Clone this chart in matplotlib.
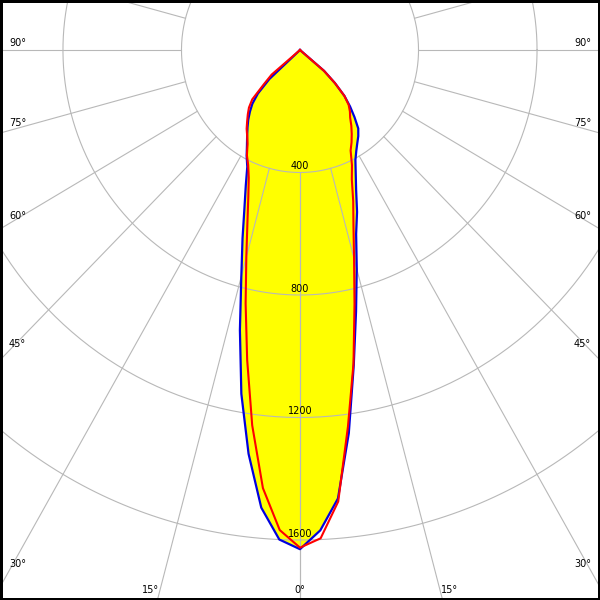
import matplotlib
matplotlib.use('Agg')
import numpy as np
import matplotlib.pyplot as plt

# luminous intensity (cd) vs gamma angle (deg), one list per half plane
gamma = [0, 2.5, 5, 7.5, 10, 12.5, 15, 17.5, 20, 22.5, 25, 27.5, 30,
         32.5, 35, 37.5, 40, 42.5, 45, 47.5, 50, 52.5, 55]
blue_left = [1630, 1600, 1500, 1330, 1140, 937, 765, 645, 548, 478, 421, 390, 358,
             332, 309, 287, 263, 238, 201, 140, 0, 0, 0]
blue_right = [1630, 1570, 1470, 1262, 1045, 874, 740, 630, 563, 495, 445, 405, 380,
              360, 343, 323, 286, 250, 212, 160, 106, 0, 0]
red_left = [1625, 1569, 1436, 1236, 1027, 848, 700, 590, 510, 452, 414, 388, 354,
            332, 314, 293, 274, 255, 228, 165, 125, 0, 0]
red_right = [1625, 1596, 1480, 1240, 1040, 850, 705, 600, 525, 457, 415, 370, 348,
             325, 302, 278, 262, 243, 212, 160, 106, 0, 0]

rings = [400, 800, 1200, 1600]
spokes = [0, 15, 30, 45, 60, 75, 90, 105, 120, 135, 150, 165, 180]
side_labels = [30, 45, 60, 75, 90]
bottom_labels = [0, 15]

# pixel scale of the original (slightly wider vertically than horizontally)
KX = 0.2963
KY = 0.30625


def outline(left, right):
    g = np.radians(gamma)
    l = np.array(left, dtype=float)
    r = np.array(right, dtype=float)
    x = np.concatenate([-(l * np.sin(g))[::-1], r * np.sin(g)])
    y = np.concatenate([-(l * np.cos(g))[::-1], -r * np.cos(g)])
    return x, y


fig = plt.figure(figsize=(6, 6), dpi=100)
ax = fig.add_axes([0, 0, 1, 1])
ax.set_xlim(-300 / KX, 300 / KX)
ax.set_ylim(-550 / KY, 50 / KY)
ax.set_xticks([])
ax.set_yticks([])
for s in ax.spines.values():
    s.set_linewidth(3.6)
    s.set_color('black')

grid_c = '#b8b8b8'
bx, by = outline(blue_left, blue_right)
ax.fill(bx, by, color='#ffff00', zorder=1, lw=0)

t = np.linspace(0, 2 * np.pi, 400)
for r in rings:
    ax.plot(r * np.cos(t), r * np.sin(t), color=grid_c, lw=0.8, zorder=2)
    ax.annotate(str(r), (0, -r), xytext=(0, 1), textcoords='offset points',
                ha='center', va='bottom', fontsize=7, zorder=5)

for a in spokes:
    for sgn in (-1, 1):
        g = np.radians(a)
        ax.plot([sgn * rings[0] * np.sin(g), sgn * 4000 * np.sin(g)],
                [-rings[0] * np.cos(g), -4000 * np.cos(g)],
                color=grid_c, lw=0.8, zorder=2)

ax.plot(bx, by, color='#0000e0', lw=1.6, zorder=3)
rx, ry = outline(red_left, red_right)
ax.plot(rx, ry, color='#ff0000', lw=1.5, zorder=4)

# angle labels along the frame
xe = 291 / KX
for a in side_labels:
    g = np.radians(a)
    yl = -xe / np.tan(g) if a < 90 else 0.0
    ax.annotate('%d°' % a, (-xe, yl), xytext=(0, 3), textcoords='offset points',
                ha='left', va='baseline', fontsize=7)
    ax.annotate('%d°' % a, (xe, yl), xytext=(0, 3), textcoords='offset points',
                ha='right', va='baseline', fontsize=7)

yb = -543 / KY
for a in bottom_labels:
    g = np.radians(a)
    xl = -yb * np.tan(g)
    if a == 0:
        ax.text(0, yb, '0°', ha='center', va='baseline', fontsize=7)
    else:
        ax.text(-xl, yb, '%d°' % a, ha='right', va='baseline', fontsize=7)
        ax.text(xl, yb, '%d°' % a, ha='left', va='baseline', fontsize=7)

fig.savefig('out.png', dpi=100)
